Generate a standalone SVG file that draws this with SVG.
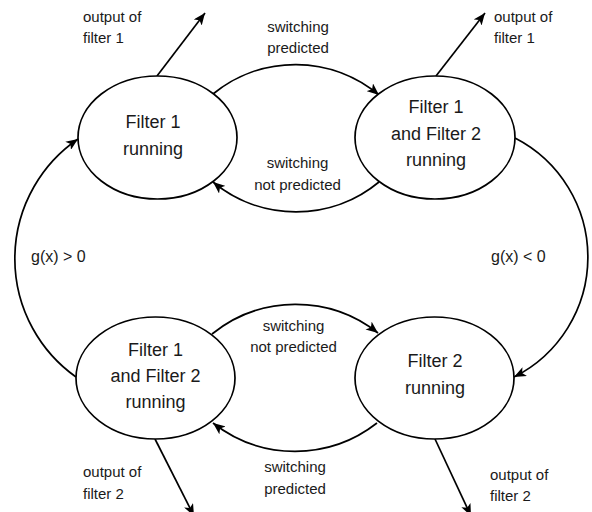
<svg xmlns="http://www.w3.org/2000/svg" width="592" height="512" viewBox="0 0 592 512">
<style>
.node ellipse{fill:#fff;stroke:#000;stroke-width:1.7}
.nt{font-family:"Liberation Sans",Arial,sans-serif;font-size:18px;fill:#1a1a1a;text-anchor:middle}
.lb{font-family:"Liberation Sans",Arial,sans-serif;font-size:15px;fill:#1a1a1a}
.lbc{text-anchor:middle}
.g{font-size:16px}
.edges path,.edges line{fill:none;stroke:#000;stroke-width:1.7;marker-end:url(#arr)}
</style>
<defs>
<marker id="arr" markerUnits="userSpaceOnUse" viewBox="0 0 12 10" refX="12" refY="5" markerWidth="12" markerHeight="10" orient="auto">
<path d="M0,0 L12,5 L0,10 L3,5 Z" fill="#000"/>
</marker>
</defs>
<rect width="592" height="512" fill="#fff"/>
<g class="edges" id="connectors">
<path d="M213,94 A130,130 0 0 1 379,95"/>
<path d="M379,182 A130,130 0 0 1 213,182"/>
<path d="M212,334 A133,133 0 0 1 378,333"/>
<path d="M377,423 A133,133 0 0 1 213,423"/>
<path d="M76,377 A145,145 0 0 1 78,139"/>
<path d="M515,138 A134,134 0 0 1 514,377"/>
<line x1="157" y1="76" x2="205" y2="13"/>
<line x1="436" y1="76" x2="485" y2="13"/>
<line x1="155" y1="439" x2="194" y2="516"/>
<line x1="435" y1="439" x2="471" y2="516"/>
</g>
<g class="node" id="filter1">
<ellipse cx="157.5" cy="137.5" rx="79.5" ry="61.5"/>
<text class="nt" x="153" y="128">Filter 1</text>
<text class="nt" x="153" y="155">running</text>
</g>
<g class="node" id="filter12top">
<ellipse cx="435" cy="137.5" rx="80" ry="61.5"/>
<text class="nt" x="436" y="113">Filter 1</text>
<text class="nt" x="436" y="140">and Filter 2</text>
<text class="nt" x="436" y="166">running</text>
</g>
<g class="node" id="filter12bottom">
<ellipse cx="155.5" cy="378" rx="79.5" ry="61"/>
<text class="nt" x="155.5" y="356">Filter 1</text>
<text class="nt" x="155.5" y="382">and Filter 2</text>
<text class="nt" x="155.5" y="408">running</text>
</g>
<g class="node" id="filter2">
<ellipse cx="434.5" cy="378" rx="79.5" ry="61"/>
<text class="nt" x="435" y="367">Filter 2</text>
<text class="nt" x="435" y="394">running</text>
</g>
<g id="labels">
<text class="lb" x="83" y="22">output of</text>
<text class="lb" x="83" y="43">filter 1</text>
<text class="lb" x="494" y="22">output of</text>
<text class="lb" x="494" y="43">filter 1</text>
<text class="lb" x="83" y="477">output of</text>
<text class="lb" x="83" y="499">filter 2</text>
<text class="lb" x="490" y="480">output of</text>
<text class="lb" x="490" y="501">filter 2</text>
<text class="lb lbc" x="298" y="32">switching</text>
<text class="lb lbc" x="298" y="53">predicted</text>
<text class="lb lbc" x="297.5" y="168">switching</text>
<text class="lb lbc" x="297.5" y="190">not predicted</text>
<text class="lb lbc" x="293.5" y="331">switching</text>
<text class="lb lbc" x="293.5" y="352">not predicted</text>
<text class="lb lbc" x="295" y="472">switching</text>
<text class="lb lbc" x="295" y="494">predicted</text>
<text class="lb g" x="31" y="262">g(x) &gt; 0</text>
<text class="lb g" x="491" y="262">g(x) &lt; 0</text>
</g>
</svg>
